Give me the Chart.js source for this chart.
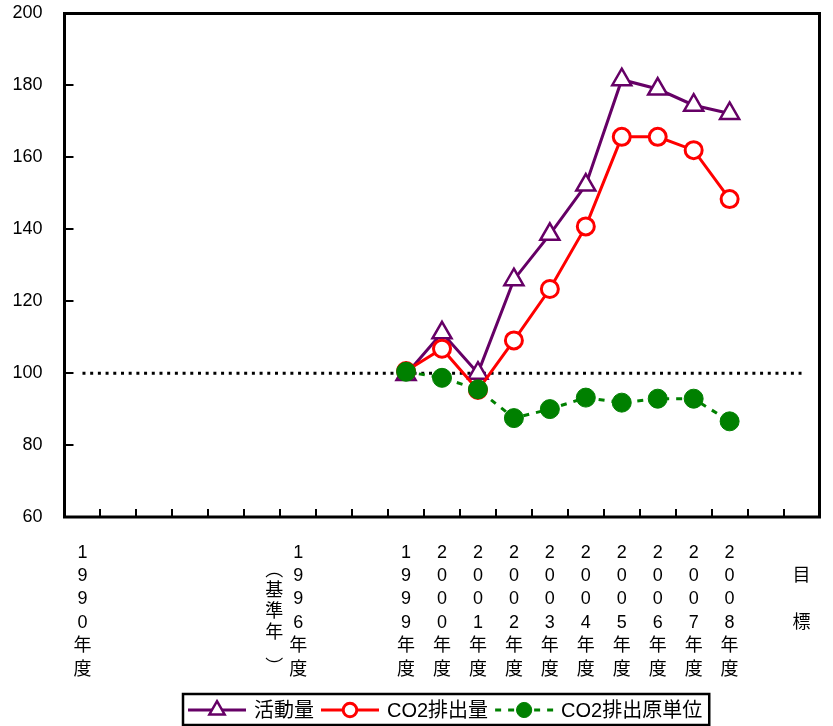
<!DOCTYPE html>
<html lang="ja">
<head>
<meta charset="utf-8">
<title>活動量・CO2排出量・CO2排出原単位</title>
<script src="https://cdn.jsdelivr.net/npm/chart.js@4.4.1/dist/chart.umd.min.js"></script>
<style>
  html, body { margin: 0; padding: 0; background: #fff; }
  #wrap { width: 833px; height: 726px; position: relative; }
</style>
</head>
<body>
<div id="wrap"><canvas id="co2-chart"></canvas></div>
<script>
// categories (21 slots, only some are labelled)
const years = ['1990年度', '', '', '', '', '', '1996年度', '', '', '1999年度', '2000年度', '2001年度',
    '2002年度', '2003年度', '2004年度', '2005年度', '2006年度', '2007年度', '2008年度', '', '目標'];
const baseYearNote = ['︵', '基', '準', '年', '︶']; // vertical "（基準年）" next to 1996

// series, index = 1996 base year = 100
const activity = [null, null, null, null, null, null, null, null, null,
    99.6, 111.2, 100.0, 126.0, 138.6, 152.3, 181.6, 179.0, 174.5, 172.2, null, null];
const co2Emission = [null, null, null, null, null, null, null, null, null,
    100.6, 106.8, 95.3, 109.1, 123.4, 140.8, 165.7, 165.7, 162.0, 148.4, null, null];
const co2Intensity = [null, null, null, null, null, null, null, null, null,
    100.4, 98.7, 95.5, 87.5, 90.0, 93.2, 91.8, 92.9, 92.9, 86.6, null, null];
const baseLine = [100, 100, 100, 100, 100, 100, 100, 100, 100, 100, 100,
    100, 100, 100, 100, 100, 100, 100, 100, 100, 100];

const yMin = 60;
const yMax = 200;
const yStep = 20;

const FONT = '"Liberation Sans", Arial, "Noto Sans CJK JP", sans-serif';

// box frame around the plot area + inward tick stubs on the value axis
const plotFrame = {
    id: 'plotFrame',
    beforeDatasetsDraw(chart) {
        const { ctx, chartArea: a } = chart;
        const y = chart.scales.y;
        ctx.save();
        ctx.strokeStyle = '#000';
        ctx.lineWidth = 2;
        y.ticks.forEach((t) => {
            const py = Math.round(y.getPixelForValue(t.value));
            ctx.beginPath();
            ctx.moveTo(a.left, py);
            ctx.lineTo(a.left + 9, py);
            ctx.stroke();
        });
        ctx.lineWidth = 3;
        ctx.strokeRect(a.left, a.top, a.right - a.left, a.bottom - a.top);
        ctx.restore();
    },
};

// "（基準年）" written vertically left of the 1996 label
const baseYearLabel = {
    id: 'baseYearLabel',
    afterDraw(chart) {
        const { ctx } = chart;
        const x = chart.scales.x.getPixelForValue(6) - 24;
        const top = chart.chartArea.bottom;
        const ys = [54, 74, 95, 116, 151];
        ctx.save();
        ctx.font = '18px ' + FONT;
        ctx.fillStyle = '#000';
        ctx.textAlign = 'center';
        ctx.textBaseline = 'middle';
        baseYearNote.forEach((ch, i) => ctx.fillText(ch, x, top + ys[i]));
        ctx.restore();
    },
};

// boxed legend at the bottom, line + marker samples
const boxLegend = {
    id: 'boxLegend',
    afterDraw(chart) {
        const { ctx } = chart;
        const items = chart.data.datasets.filter((d) => d.inLegend);
        const cy = 710;
        ctx.save();
        ctx.font = '20px ' + FONT;
        ctx.textBaseline = 'middle';
        let x = 188;
        items.forEach((ds) => {
            ctx.strokeStyle = ds.borderColor;
            ctx.lineWidth = ds.borderWidth;
            ctx.setLineDash(ds.borderDash || []);
            ctx.beginPath();
            ctx.moveTo(x, cy);
            ctx.lineTo(x + 58, cy);
            ctx.stroke();
            ctx.setLineDash([]);
            ctx.fillStyle = ds.pointBackgroundColor;
            ctx.lineWidth = ds.pointBorderWidth;
            Chart.helpers.drawPoint(ctx, {
                pointStyle: ds.pointStyle,
                radius: ds.pointRadius * 0.8,
                borderWidth: ds.pointBorderWidth,
                rotation: 0,
            }, x + 29, cy);
            ctx.fillStyle = '#000';
            ctx.fillText(ds.label, x + 66, cy + 1);
            x += 66 + ctx.measureText(ds.label).width + 7;
        });
        ctx.strokeStyle = '#000';
        ctx.lineWidth = 2.5;
        ctx.strokeRect(183, 694, x - 183, 31);
        ctx.restore();
    },
};

new Chart(document.getElementById('co2-chart'), {
    type: 'line',
    data: {
        labels: years,
        datasets: [
            {
                label: '活動量',
                data: activity,
                inLegend: true,
                borderColor: '#660066',
                borderWidth: 3,
                pointStyle: 'triangle',
                pointRadius: 11,
                pointBorderWidth: 2.5,
                pointBackgroundColor: '#ffffff',
                pointBorderColor: '#660066',
                order: 2,
            },
            {
                label: 'CO2排出量',
                data: co2Emission,
                inLegend: true,
                borderColor: '#ff0000',
                borderWidth: 3,
                pointStyle: 'circle',
                pointRadius: 8.5,
                pointBorderWidth: 3,
                pointBackgroundColor: '#ffffff',
                pointBorderColor: '#ff0000',
                order: 1,
            },
            {
                label: 'CO2排出原単位',
                data: co2Intensity,
                inLegend: true,
                borderColor: '#008000',
                borderWidth: 3,
                borderDash: [6, 7],
                pointStyle: 'circle',
                pointRadius: 9.5,
                pointBorderWidth: 1,
                pointBackgroundColor: '#008000',
                pointBorderColor: '#008000',
                order: 0,
            },
            {
                label: '基準',
                data: baseLine,
                borderColor: '#000',
                borderWidth: 3,
                borderDash: [3, 4.7],
                pointRadius: 0,
                order: 3,
            },
        ],
    },
    options: {
        responsive: true,
        maintainAspectRatio: false,
        animation: false,
        layout: { padding: { top: 10.5, right: 6.5, left: 0, bottom: 0 } },
        plugins: {
            legend: { display: false },
            tooltip: { enabled: false },
        },
        scales: {
            x: {
                type: 'category',
                offset: true,
                border: { display: false },
                grid: {
                    offset: true,
                    drawOnChartArea: false,
                    drawTicks: true,
                    tickLength: -8,
                    color: '#000',
                    lineWidth: 2,
                },
                ticks: {
                    autoSkip: false,
                    maxRotation: 0,
                    padding: 32,
                    color: '#000',
                    font: { family: FONT, size: 18, lineHeight: 1.3 },
                    callback: (value, index) => {
                        const s = years[index];
                        if (s === '目標') return ['', '目', '', '標'];
                        return s ? Array.from(s) : '';
                    },
                },
                afterFit: (scale) => {
                    scale.height = 209;
                    scale.paddingLeft = 0;
                    scale.paddingRight = 0;
                },
            },
            y: {
                min: yMin,
                max: yMax,
                border: { display: false },
                grid: {
                    display: false,
                    drawTicks: false,
                },
                ticks: {
                    stepSize: yStep,
                    padding: 22,
                    color: '#000',
                    font: { family: FONT, size: 18 },
                },
                afterFit: (scale) => {
                    scale.width = 64.5;
                    scale.paddingTop = 0;
                    scale.paddingBottom = 0;
                },
            },
        },
    },
    plugins: [plotFrame, baseYearLabel, boxLegend],
});
</script>
</body>
</html>
